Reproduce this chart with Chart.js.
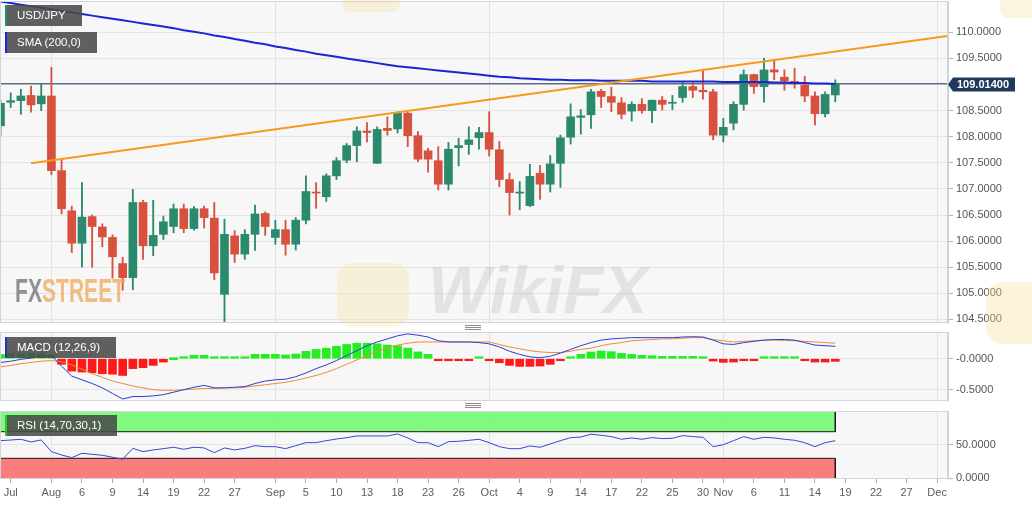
<!DOCTYPE html>
<html>
<head>
<meta charset="utf-8">
<title>USD/JPY daily</title>
<script src="https://cdn.jsdelivr.net/npm/chart.js@4.4.1/dist/chart.umd.min.js"></script>
<style>
html, body { margin: 0; padding: 0; background: #fff; }
body { position: relative; width: 1032px; height: 505px; overflow: hidden; font-family: 'Liberation Sans', Arial, sans-serif; }
canvas { position: absolute; left: 0; }
#main { top: 0; }
#macd { top: 330px; }
#rsi { top: 405px; }
.tag { position: absolute; left: 5px; height: 21px; line-height: 21px; box-sizing: border-box; padding: 0 16px 0 10px; border-left: 2px solid; background: rgba(74, 74, 74, 0.88); color: #fff; font-size: 11.5px; white-space: nowrap; z-index: 3; }
.grip { position: absolute; left: 465px; width: 16px; height: 5px; background: repeating-linear-gradient(to bottom, #8c8c8c 0 1px, transparent 1px 2px); }
.mark { position: absolute; pointer-events: none; z-index: 2; white-space: nowrap; }
</style>
</head>
<body>
<canvas id="main" width="1032" height="330"></canvas>
<canvas id="macd" width="1032" height="76"></canvas>
<canvas id="rsi" width="1032" height="100"></canvas>

<div class="mark" style="left:342px;top:-4px;width:58px;height:16px;border-radius:8px;background:rgba(246,222,150,.3)"></div>
<div class="mark" style="left:1000px;top:-4px;width:40px;height:22px;border-radius:8px;background:rgba(246,222,150,.3)"></div>
<div class="mark" style="left:986px;top:282px;width:60px;height:62px;border-radius:16px;background:rgba(246,222,150,.35)"></div>
<div class="mark" style="left:337px;top:263px;width:72px;height:64px;border-radius:16px;background:rgba(246,222,150,.3)"></div>
<div class="mark" style="left:428px;top:252px;font:italic bold 66px 'Liberation Sans', Arial, sans-serif;color:rgba(140,140,140,.18)">WikiFX</div>
<div class="mark" style="left:15px;top:271px;font:bold 34px 'Liberation Sans Narrow', 'Liberation Sans', sans-serif;transform:scaleX(0.62);transform-origin:left top"><span style="color:rgba(110,110,110,.75)">FX</span><span style="color:rgba(238,168,88,.75)">STREET</span></div>

<div class="tag" style="top:5px;border-color:#2b8a6d">USD/JPY</div>
<div class="tag" style="top:32px;border-color:#1a25d4">SMA (200,0)</div>
<div class="tag" style="top:337px;border-color:#2233c0">MACD (12,26,9)</div>
<div class="tag" style="top:415px;border-color:#22cc22">RSI (14,70,30,1)</div>
<div class="grip" style="top:325px"></div>
<div class="grip" style="top:403px"></div>

<script>
const FONT = "'Liberation Sans', Arial, sans-serif";

// daily candles (every weekday, FX)
const dates = [
  '2019-07-25','2019-07-26','2019-07-29','2019-07-30','2019-07-31',
  '2019-08-01','2019-08-02','2019-08-05','2019-08-06','2019-08-07','2019-08-08','2019-08-09','2019-08-12','2019-08-13','2019-08-14','2019-08-15',
  '2019-08-16','2019-08-19','2019-08-20','2019-08-21','2019-08-22','2019-08-23','2019-08-26','2019-08-27','2019-08-28','2019-08-29','2019-08-30',
  '2019-09-02','2019-09-03','2019-09-04','2019-09-05','2019-09-06','2019-09-09','2019-09-10','2019-09-11','2019-09-12','2019-09-13','2019-09-16',
  '2019-09-17','2019-09-18','2019-09-19','2019-09-20','2019-09-23','2019-09-24','2019-09-25','2019-09-26','2019-09-27','2019-09-30',
  '2019-10-01','2019-10-02','2019-10-03','2019-10-04','2019-10-07','2019-10-08','2019-10-09','2019-10-10','2019-10-11','2019-10-14','2019-10-15',
  '2019-10-16','2019-10-17','2019-10-18','2019-10-21','2019-10-22','2019-10-23','2019-10-24','2019-10-25','2019-10-28','2019-10-29','2019-10-30','2019-10-31',
  '2019-11-01','2019-11-04','2019-11-05','2019-11-06','2019-11-07','2019-11-08','2019-11-11','2019-11-12','2019-11-13','2019-11-14','2019-11-15','2019-11-18'
];
const opens = [
  108.21,108.66,108.69,108.79,108.63,
  108.78,107.35,106.58,105.96,106.47,106.27,106.07,105.57,105.30,106.74,105.91,106.13,106.28,106.62,106.24,106.62,106.44,104.98,106.10,105.75,106.13,106.53,
  106.07,106.22,105.94,106.40,106.94,106.85,107.25,107.55,107.83,108.11,107.49,108.16,108.15,108.45,108.02,107.73,107.54,107.09,107.79,107.85,107.98,
  108.08,107.75,107.18,106.92,106.68,107.30,107.09,107.49,107.99,108.37,108.42,108.87,108.77,108.65,108.49,108.62,108.50,108.70,108.64,108.75,108.96,108.89,108.86,
  108.03,108.26,108.62,109.19,108.96,109.28,109.14,109.06,108.99,108.78,108.44,108.80
];
const highs = [
  108.70,108.84,108.91,108.97,109.02,
  109.33,107.57,106.67,107.12,106.50,106.33,106.12,105.69,106.99,106.78,106.78,106.48,106.71,106.71,106.66,106.67,106.74,106.42,106.20,106.22,106.69,106.56,
  106.40,106.40,106.45,107.25,107.12,107.29,107.60,107.87,108.19,108.27,108.19,108.38,108.48,108.47,108.10,107.78,107.81,107.89,107.97,108.19,108.18,
  108.48,107.91,107.30,107.14,107.47,107.45,107.64,108.03,108.63,108.52,108.91,108.91,108.95,108.75,108.67,108.73,108.70,108.77,108.79,109.05,109.04,109.26,108.91,
  108.35,108.67,109.28,109.20,109.50,109.46,109.28,109.31,109.16,108.86,108.86,109.09
];
const lows = [
  108.03,108.56,108.43,108.47,108.50,
  107.27,106.52,105.78,105.50,105.50,105.89,105.29,105.06,105.07,105.65,105.72,106.03,106.16,106.16,106.21,106.25,105.26,104.44,105.59,105.65,105.82,106.11,
  105.94,105.73,105.83,106.33,106.63,106.76,107.18,107.50,107.52,107.90,107.49,108.03,108.07,107.81,107.52,107.32,106.98,106.98,107.44,107.66,107.76,
  107.63,107.04,106.50,106.60,106.66,106.80,106.94,107.03,107.86,108.05,108.16,108.56,108.48,108.34,108.30,108.45,108.27,108.51,108.52,108.66,108.75,108.72,107.94,
  107.90,108.13,108.51,108.83,108.66,109.09,108.89,108.93,108.67,108.22,108.38,108.67
];
const closes = [
  108.64,108.69,108.78,108.61,108.78,
  107.35,106.62,105.96,106.46,106.28,106.08,105.70,105.30,106.74,105.91,106.11,106.37,106.62,106.24,106.62,106.45,105.39,106.13,105.75,106.13,106.52,106.28,
  106.22,105.94,106.40,106.95,106.92,107.25,107.54,107.83,108.11,108.08,108.14,108.12,108.45,108.02,107.57,107.57,107.09,107.76,107.83,107.94,108.08,
  107.76,107.18,106.93,106.94,107.24,107.09,107.48,107.98,108.38,108.40,108.86,108.77,108.66,108.43,108.62,108.50,108.70,108.62,108.66,108.96,108.89,108.86,108.03,
  108.18,108.62,109.19,108.96,109.28,109.24,109.07,109.02,108.78,108.44,108.81,109.014
];
const sma200 = [
  110.59,110.56,110.53,110.50,110.47,
  110.44,110.41,110.38,110.35,110.32,110.29,110.26,110.23,110.20,110.17,110.14,110.11,110.08,110.04,110.01,109.98,109.94,109.91,109.87,109.84,109.80,109.77,
  109.73,109.70,109.66,109.63,109.59,109.56,109.53,109.50,109.47,109.44,109.41,109.38,109.35,109.33,109.31,109.29,109.27,109.25,109.23,109.21,109.19,
  109.17,109.15,109.14,109.12,109.11,109.10,109.09,109.09,109.08,109.08,109.08,109.07,109.07,109.07,109.07,109.07,109.06,109.06,109.06,109.06,109.06,109.06,109.06,
  109.05,109.05,109.05,109.05,109.05,109.04,109.04,109.03,109.03,109.02,109.02,109.01
];
// rising trend line, two anchors
const trendDates = ['2019-07-30', '2019-12-03'];
const trendValues = [107.49, 109.93];

const macdLine = [
  -0.06,-0.04,-0.01,0.01,0.04,
  0.05,-0.12,-0.28,-0.34,-0.40,-0.47,-0.56,-0.65,-0.61,-0.61,-0.60,-0.58,-0.54,-0.50,-0.46,-0.43,-0.47,-0.47,-0.46,-0.45,-0.40,-0.36,
  -0.34,-0.33,-0.29,-0.23,-0.16,-0.10,-0.03,0.05,0.13,0.21,0.27,0.32,0.37,0.40,0.38,0.35,0.29,0.27,0.27,0.27,0.26,
  0.24,0.19,0.12,0.07,0.03,0.016,0.04,0.09,0.15,0.21,0.26,0.30,0.32,0.33,0.34,0.34,0.34,0.34,0.34,0.35,0.355,0.35,0.30,
  0.24,0.23,0.26,0.28,0.30,0.31,0.31,0.30,0.26,0.22,0.21,0.20
];
const macdSignal = [
  -0.13,-0.11,-0.08,-0.06,-0.04,
  -0.03,-0.05,-0.10,-0.17,-0.24,-0.30,-0.36,-0.40,-0.44,-0.47,-0.50,-0.51,-0.51,-0.50,-0.49,-0.48,-0.48,-0.47,-0.47,-0.46,-0.44,-0.42,
  -0.40,-0.38,-0.35,-0.31,-0.27,-0.22,-0.16,-0.09,-0.02,0.05,0.12,0.17,0.22,0.25,0.27,0.27,0.27,0.27,0.27,0.27,0.27,
  0.27,0.23,0.19,0.16,0.13,0.11,0.10,0.10,0.12,0.15,0.17,0.21,0.24,0.26,0.29,0.30,0.31,0.32,0.32,0.33,0.34,0.34,0.31,
  0.29,0.27,0.28,0.29,0.30,0.30,0.295,0.29,0.28,0.27,0.26,0.25
];
const macdHist = [
  0.07,0.09,0.09,0.09,0.09,
  0.06,-0.09,-0.20,-0.215,-0.226,-0.242,-0.25,-0.27,-0.16,-0.145,-0.108,-0.054,0,0.01,0.054,0.054,0.01,0.01,0.01,0.03,0.07,0.07,
  0.07,0.06,0.075,0.12,0.15,0.17,0.20,0.23,0.25,0.25,0.24,0.22,0.21,0.17,0.11,0.07,-0.01,-0.01,-0.01,-0.01,0.01,
  -0.01,-0.065,-0.108,-0.124,-0.124,-0.118,-0.091,-0.027,0.027,0.07,0.108,0.124,0.113,0.086,0.07,0.054,0.048,0.038,0.038,0.038,0.038,0.032,-0.038,
  -0.059,-0.054,-0.01,-0.01,0.01,0.02,0.01,0.005,-0.02,-0.054,-0.054,-0.043
];
const rsi14 = [
  56.5,57.5,58.6,54.6,57.6,
  40,35,31,37.6,36,34.6,31.6,28.6,45,40,42.6,44.5,46.6,43.6,46.6,45.6,38.5,45.6,42.6,45,49,47.5,
  47.5,44.5,49,53.5,53.5,56.5,59,61,63.6,63.6,63.6,63.6,66.6,60.6,53.5,53.5,47.5,55,55.6,57,58.6,
  53.5,47.5,44.5,44.5,48.6,46.6,51.6,56.5,61,62,66.2,64.6,62.6,58.6,60.6,58.6,61.1,59.6,60.1,64.1,62.6,61.6,47.5,
  50.5,56.5,62.6,58.6,61.6,60.6,58.6,57.1,53.5,47.5,53.5,56.5
];
const rsiHigh = 70, rsiLow = 30;

// axis labels
const tickDates = [
  '2019-07-26','2019-08-01','2019-08-06','2019-08-09','2019-08-14','2019-08-19','2019-08-22','2019-08-27',
  '2019-09-02','2019-09-05','2019-09-10','2019-09-13','2019-09-18','2019-09-23','2019-09-26',
  '2019-10-01','2019-10-04','2019-10-09','2019-10-14','2019-10-17','2019-10-22','2019-10-25','2019-10-30',
  '2019-11-01','2019-11-06','2019-11-11','2019-11-14','2019-11-19','2019-11-22','2019-11-27','2019-12-02'
];
const tickLabels = [
  'Jul','Aug','6','9','14','19','22','27',
  'Sep','5','10','13','18','23','26',
  'Oct','4','9','14','17','22','25','30',
  'Nov','6','11','14','19','22','27','Dec'
];
const monthStarts = ['2019-08-01','2019-09-02','2019-10-01','2019-11-01','2019-12-02'];
const priceTicks = [104.5,105,105.5,106,106.5,107,107.5,108,108.5,109,109.5,110];
const macdTicks = [-0.5, 0];
const macdTickLabels = ['-0.5000', '-0.0000'];
const rsiTicks = [0, 50];
const rsiTickLabels = ['0.0000', '50.0000'];

// weekday count since the first candle
function dayIndex(s) {
  const t0 = Date.UTC(2019, 6, 25);
  const p = s.split('-').map(Number);
  const t = Date.UTC(p[0], p[1] - 1, p[2]);
  let n = 0;
  for (let u = t0; u < t; u += 864e5) {
    const wd = new Date(u).getUTCDay();
    if (wd !== 0 && wd !== 6) n++;
  }
  return n;
}

const X_MIN = -0.05, X_MAX = 93.07;
const xs = dates.map(dayIndex);
const lastX = xs[xs.length - 1];
const lastClose = closes[closes.length - 1];
const GREEN = '#2b8a6d', RED = '#d8513e';
const candleColors = closes.map((c, i) => c >= opens[i] ? GREEN : RED);
const gridIdx = monthStarts.map(d => tickDates.indexOf(d));

function xAxis(showLabels) {
  return {
    type: 'linear', min: X_MIN, max: X_MAX, offset: false,
    afterBuildTicks: s => { s.ticks = tickDates.map(d => ({ value: dayIndex(d) })); },
    afterFit: s => { s.paddingLeft = 0; s.paddingRight = 0; s.height = showLabels ? 26 : 0; },
    grid: {
      offset: false,
      color: c => gridIdx.includes(c.index) ? '#e2e2e2' : 'rgba(0,0,0,0)',
      drawTicks: showLabels, tickLength: 4, tickColor: '#a9a9a9'
    },
    border: { display: false },
    ticks: {
      display: showLabels, autoSkip: false, maxRotation: 0, padding: 3,
      color: '#5c5c5c', font: { size: 11, family: FONT },
      callback: (v, i) => tickLabels[i]
    }
  };
}

function yAxis(min, max, values, labels) {
  return {
    position: 'right', min: min, max: max,
    afterBuildTicks: s => { s.ticks = values.map(v => ({ value: v })); },
    afterFit: s => { s.width = 84; s.paddingTop = 0; s.paddingBottom = 0; },
    grid: { color: '#e4e4e4', tickLength: 5, tickColor: '#b4b8be' },
    border: { display: true, color: '#cdd2d9' },
    ticks: { padding: 3, color: '#555', font: { size: 11, family: FONT }, callback: (v, i) => labels[i] }
  };
}

const panelBg = {
  id: 'panelBg',
  beforeDraw(chart) {
    const a = chart.chartArea, ctx = chart.ctx;
    ctx.save();
    ctx.fillStyle = '#f7f7f7';
    ctx.fillRect(a.left, a.top, a.right - a.left, a.bottom - a.top);
    ctx.restore();
  },
  afterDraw(chart) {
    const a = chart.chartArea, ctx = chart.ctx;
    ctx.save();
    ctx.strokeStyle = '#d2d6dc';
    ctx.lineWidth = 1;
    ctx.strokeRect(a.left + 0.5, a.top + 0.5, a.right - a.left - 1, a.bottom - a.top - 1);
    ctx.restore();
  }
};

const priceTag = {
  id: 'priceTag',
  afterDraw(chart) {
    const ctx = chart.ctx, a = chart.chartArea;
    const y = Math.round(chart.scales.y.getPixelForValue(lastClose)) + 0.5;
    ctx.save();
    ctx.fillStyle = '#1f3a5b';
    ctx.beginPath();
    ctx.moveTo(a.right, y);
    ctx.lineTo(a.right + 5, y - 7);
    ctx.lineTo(a.right + 67, y - 7);
    ctx.lineTo(a.right + 67, y + 7);
    ctx.lineTo(a.right + 5, y + 7);
    ctx.closePath();
    ctx.fill();
    ctx.fillStyle = '#fff';
    ctx.font = 'bold 11px ' + FONT;
    ctx.textBaseline = 'middle';
    ctx.fillText(lastClose.toFixed(5), a.right + 9, y + 0.5);
    ctx.restore();
  }
};

function makeChart(id, datasets, yOpts, showX, padding, extra) {
  return new Chart(document.getElementById(id), {
    type: 'bar',
    data: { datasets: datasets },
    options: {
      responsive: false, animation: false, events: [],
      layout: { padding: padding },
      elements: { point: { radius: 0 }, line: { tension: 0 } },
      plugins: { legend: { display: false }, tooltip: { enabled: false } },
      scales: { x: xAxis(showX), y: yOpts }
    },
    plugins: [panelBg].concat(extra || [])
  });
}

makeChart('main', [
  { type: 'line', data: trendDates.map((d, i) => ({ x: dayIndex(d), y: trendValues[i] })), borderColor: '#f79b1c', borderWidth: 2, order: 1 },
  { type: 'line', data: xs.map((x, i) => ({ x: x, y: sma200[i] })), borderColor: '#1a25d4', borderWidth: 2, order: 2 },
  { type: 'bar', data: xs.map((x, i) => ({ x: x, y: [opens[i], closes[i]] })), backgroundColor: candleColors,
    barThickness: 8, grouped: false, minBarLength: 1, borderWidth: 0, order: 3 },
  { type: 'bar', data: xs.map((x, i) => ({ x: x, y: [lows[i], highs[i]] })), backgroundColor: candleColors,
    barThickness: 1.2, grouped: false, borderWidth: 0, order: 4 },
  { type: 'line', data: [{ x: X_MIN, y: lastClose }, { x: X_MAX, y: lastClose }], borderColor: '#1e3656', borderWidth: 1, order: 5 }
], yAxis(104.431, 110.6, priceTicks, priceTicks.map(v => v.toFixed(4))), false, { top: 1, bottom: 7, left: 0, right: 0 }, [priceTag]);

makeChart('macd', [
  { type: 'line', data: xs.map((x, i) => ({ x: x, y: macdLine[i] })), borderColor: '#2c3fd0', borderWidth: 1, order: 1 },
  { type: 'line', data: xs.map((x, i) => ({ x: x, y: macdSignal[i] })), borderColor: '#f08a3a', borderWidth: 1, order: 2 },
  { type: 'bar', data: xs.map((x, i) => ({ x: x, y: macdHist[i] })), backgroundColor: macdHist.map(v => v >= 0 ? '#22ee22' : '#ff1a1a'),
    barThickness: 8, grouped: false, minBarLength: 2, borderWidth: 0, order: 3 }
], yAxis(-0.682, 0.431, macdTicks, macdTickLabels), false, { top: 2, bottom: 5, left: 0, right: 0 });

makeChart('rsi', [
  { type: 'line', data: xs.map((x, i) => ({ x: x, y: rsi14[i] })), borderColor: '#3548d3', borderWidth: 1, order: 1 },
  { type: 'line', data: [{ x: lastX, y: 100 }, { x: lastX, y: rsiHigh }], borderColor: '#1a1a1a', borderWidth: 1, order: 2 },
  { type: 'line', data: [{ x: lastX, y: rsiLow }, { x: lastX, y: 0 }], borderColor: '#1a1a1a', borderWidth: 1, order: 2 },
  { type: 'line', data: [{ x: X_MIN, y: rsiHigh }, { x: lastX, y: rsiHigh }], borderColor: '#1a1a1a', borderWidth: 1,
    fill: { value: 100 }, backgroundColor: 'rgba(113,248,113,0.9)', order: 3 },
  { type: 'line', data: [{ x: X_MIN, y: rsiLow }, { x: lastX, y: rsiLow }], borderColor: '#1a1a1a', borderWidth: 1,
    fill: { value: 0 }, backgroundColor: 'rgba(249,110,110,0.9)', order: 3 }
], yAxis(-1.1, 101.1, rsiTicks, rsiTickLabels), true, { top: 6, bottom: 0, left: 0, right: 0 });
</script>
</body>
</html>
